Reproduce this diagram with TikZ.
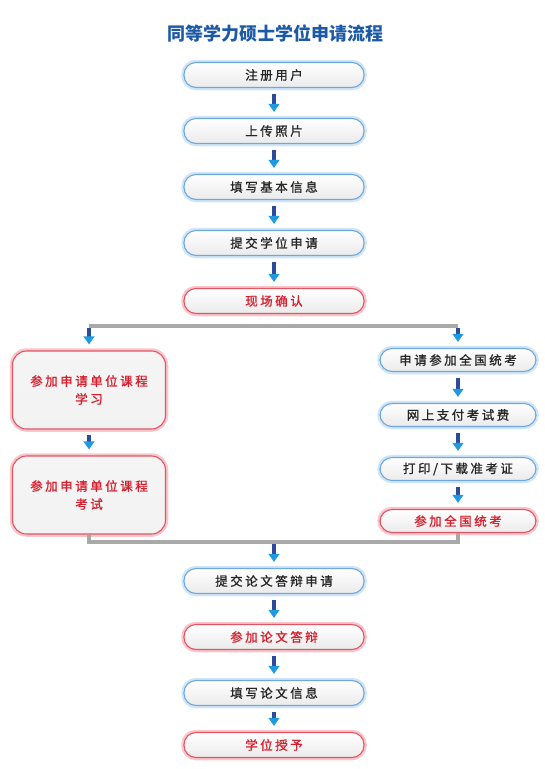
\documentclass[tikz,border=0pt]{standalone}
\usepackage{fontspec}
\usetikzlibrary{arrows.meta}
\newfontfamily\cjk[LetterSpace=20,FakeBold=1]{Noto Sans CJK SC}
\newfontfamily\cjktitle{Noto Sans CJK SC}
\definecolor{bluebord}{HTML}{6FA8DC}
\definecolor{blueglow}{HTML}{D2E5F7}
\definecolor{redbord}{HTML}{E25563}
\definecolor{redglow}{HTML}{F8C6CC}
\definecolor{redtext}{HTML}{D81E2C}
\definecolor{titleblue}{HTML}{1D5AA6}
\definecolor{linegray}{HTML}{A9A9A9}
\definecolor{arrowdark}{HTML}{2B4C9B}
\definecolor{arrowlight}{HTML}{1E9AE0}
\tikzset{
  box/.style={rounded corners=12pt, inner sep=0pt, line width=1.1pt,
    top color=white, bottom color=black!8, align=center,
    font=\cjk\fontsize{12.5}{18}\selectfont},
  bluebox/.style={box, draw=bluebord, preaction={draw=blueglow, line width=5.5pt}, text=black!85},
  redbox/.style={box, draw=redbord, preaction={draw=redglow, line width=5.5pt}, text=redtext},
  wide/.style={minimum width=180pt, minimum height=25pt},
  narrow/.style={minimum width=156pt, minimum height=23pt},
  big/.style={minimum width=153pt, minimum height=78pt, rounded corners=14pt,
    top color=black!4, bottom color=black!5},
  flow/.style={line width=4pt, draw=arrowdark,
    -{Triangle[width=10.5pt,length=8pt,color=arrowlight]},
    shorten <=5.5pt, shorten >=6pt},
  graylink/.style={draw=linegray, line width=3.5pt}
}
\begin{document}
\begin{tikzpicture}[x=1pt,y=-1pt]
      \useasboundingbox (0,0) rectangle (545,769);
      \draw
        (275,34) node[font=\cjktitle\bfseries\fontsize{18}{20}\selectfont, text=titleblue] (0){同等学力硕士学位申请流程}
        (274,75) node[bluebox, wide] (1){注册用户}
        (274,131) node[bluebox, wide] (2){上传照片}
        (274,187) node[bluebox, wide] (3){填写基本信息}
        (274,243) node[bluebox, wide] (4){提交学位申请}
        (274,301) node[redbox, wide] (5){现场确认}
        (89,390) node[redbox, big] (6){参加申请单位课程\\学习}
        (89,495) node[redbox, big] (7){参加申请单位课程\\考试}
        (458,360) node[bluebox, narrow] (8){申请参加全国统考}
        (458,415) node[bluebox, narrow] (9){网上支付考试费}
        (458,469) node[bluebox, narrow] (10){打印/下载准考证}
        (458,521) node[redbox, narrow] (11){参加全国统考}
        (274,581) node[bluebox, wide] (12){提交论文答辩申请}
        (274,637) node[redbox, wide] (13){参加论文答辩}
        (274,693) node[bluebox, wide] (14){填写论文信息}
        (274,745) node[redbox, wide] (15){学位授予};
      \coordinate (s) at (274,326);
      \coordinate (j) at (274,542);
      \begin{scope}[graylink]
        \draw (6.north |- s) -- (8.north |- s);
        \draw (7.south) -- (7.south |- j) -- (11.south |- j) -- (11.south);
      \end{scope}
      \begin{scope}[flow]
        \draw (1) to (2);
        \draw (2) to (3);
        \draw (3) to (4);
        \draw (4) to (5);
        \draw[shorten <=2pt] (6.north |- s) to (6);
        \draw[shorten <=2pt] (8.north |- s) to (8);
        \draw (6) to (7);
        \draw (8) to (9);
        \draw (9) to (10);
        \draw (10) to (11);
        \draw[shorten <=2pt] (j) to (12);
        \draw (12) to (13);
        \draw (13) to (14);
        \draw (14) to (15);
      \end{scope}
    \end{tikzpicture}
\end{document}
